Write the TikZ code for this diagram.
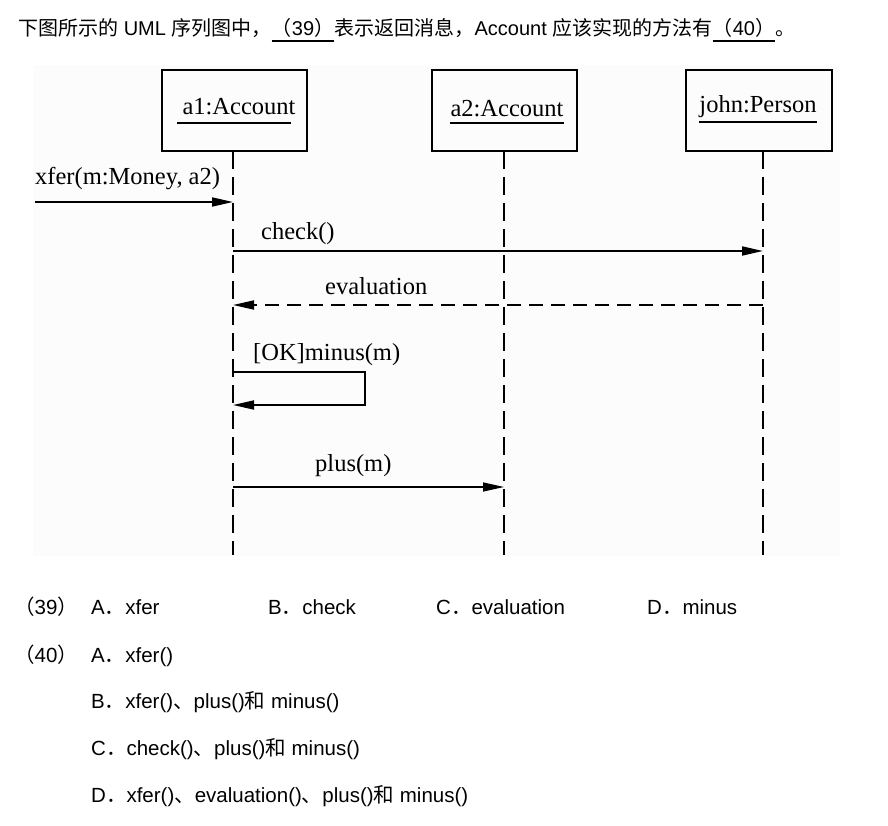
\documentclass[tikz,border=0pt]{standalone}
\usepackage{fontspec}
\setmainfont{Liberation Sans}
\newfontfamily\zhfont{Noto Sans CJK SC}
\newfontfamily\umlfont{Liberation Serif}
\usetikzlibrary{positioning}
\usetikzlibrary{calc}
\usetikzlibrary{arrows.meta}

\begin{document}
\begin{tikzpicture}[x=1pt,y=-1pt,
    obj/.style={draw,line width=1.6pt,minimum width=145pt,minimum height=81pt,inner sep=0pt},
    uml/.style={font=\fontsize{24.5}{26}\umlfont,inner sep=0pt},
    txt/.style={font=\fontsize{20}{22}\selectfont,inner sep=0pt,anchor=base west},
    opt/.style={font=\fontsize{20.5}{22}\selectfont,inner sep=0pt,anchor=base west},
    uline/.style={line width=1.4pt},
    life/.style={line width=1.8pt,dash pattern=on 18pt off 8pt},
    msg/.style={line width=1.8pt,-{Triangle[length=21pt,width=9pt]}},
    ret/.style={msg,dash pattern=on 14pt off 8pt}]
    \useasboundingbox (0,0) rectangle (888,826);
    \fill[white] (0,0) rectangle (888,826);
    \fill[black!1] (33,65) rectangle (840,556);
    % question line
    \node[txt] (q1) at (18,36) {{\zhfont 下图所示的} UML {\zhfont 序列图中，}};
    \node[txt] (q2) at (q1.base east) {{\zhfont （}39{\zhfont ）}};
    \node[txt] (q3) at (q2.base east) {{\zhfont 表示返回消息，}Account {\zhfont 应该实现的方法有}};
    \node[txt] (q4) at (q3.base east) {{\zhfont （}40{\zhfont ）}};
    \node[txt] (q5) at (q4.base east) {{\zhfont 。}};
    \draw[uline] ([yshift=-5pt]q2.base west) -- ([yshift=-5pt]q2.base east);
    \draw[uline] ([yshift=-5pt]q4.base west) -- ([yshift=-5pt]q4.base east);
    % objects
    \node[obj] (a1) at (234.5,110.5) {};
    \node[obj] (a2) at (504.5,110.5) {};
    \node[obj,minimum width=146pt] (john) at (759,110.5) {};
    \node[uml,anchor=base] (a1name) at (239,115) {a1:Account};
    \node[uml,anchor=base] (a2name) at (507,117) {a2:Account};
    \node[uml,anchor=base] (johnname) at (758,113) {john:Person};
    \draw[uline] ([xshift=-5pt,yshift=-8pt]a1name.base west) -- ([xshift=-5pt,yshift=-8pt]a1name.base east);
    \draw[uline] ([yshift=-6pt]a2name.base west) -- ([yshift=-6pt]a2name.base east);
    \draw[uline] ([yshift=-9pt]johnname.base west) -- ([yshift=-9pt]johnname.base east);
    % lifelines
    \coordinate (a1top) at (233,151);
    \coordinate (a1end) at (233,555);
    \coordinate (a2top) at (504,151);
    \coordinate (a2end) at (504,555);
    \coordinate (johntop) at (763,151);
    \coordinate (johnend) at (763,555);
    \draw[life] (a1top) -- (a1end);
    \draw[life] (a2top) -- (a2end);
    \draw[life] (johntop) -- (johnend);
    % messages
    \coordinate (xferin) at (35,202);
    \draw[msg] (xferin) -- (xferin -| a1top);
    \node[uml,anchor=base west] (xferlbl) at (35,185) {xfer(m:Money, a2)};
    \coordinate (chk) at (233,251);
    \draw[msg] (chk) -- (chk -| johntop);
    \node[uml,anchor=base west] (chklbl) at (261,240) {check()};
    \coordinate (eva) at (763,305);
    \draw[ret] (eva) -- (eva -| a1top);
    \node[uml,anchor=base west] (evalbl) at (325,294) {evaluation};
    \coordinate (mn1) at (233,372);
    \coordinate (mn2) at (365,405);
    \draw[msg] (mn1) -- (mn1 -| mn2) -- (mn2) -- (mn2 -| mn1);
    \node[uml,anchor=base west] (mnlbl) at (253,360) {[OK]minus(m)};
    \coordinate (pl) at (233,487);
    \draw[msg,line width=1.2pt] (pl) -- (pl -| a2top);
    \node[uml,anchor=base west] (pllbl) at (315,471) {plus(m)};
    % options
    \node[opt] (n39) at (14,614) {{\zhfont （}39{\zhfont ）}};
    \node[opt] (o39a) at (91,614) {A{\zhfont ．}xfer};
    \node[opt] (o39b) at (268,614) {B{\zhfont ．}check};
    \node[opt] (o39c) at (436,614) {C{\zhfont ．}evaluation};
    \node[opt] (o39d) at (647,614) {D{\zhfont ．}minus};
    \node[opt] (n40) at (14,662) {{\zhfont （}40{\zhfont ）}};
    \node[opt] (o40a) at (91,662) {A{\zhfont ．}xfer()};
    \node[opt] (o40b) at (91,708) {B{\zhfont ．}xfer(){\zhfont 、}plus(){\zhfont 和} minus()};
    \node[opt] (o40c) at (91,755) {C{\zhfont ．}check(){\zhfont 、}plus(){\zhfont 和} minus()};
    \node[opt] (o40d) at (91,802) {D{\zhfont ．}xfer(){\zhfont 、}evaluation(){\zhfont 、}plus(){\zhfont 和} minus()};
\end{tikzpicture}
\end{document}
